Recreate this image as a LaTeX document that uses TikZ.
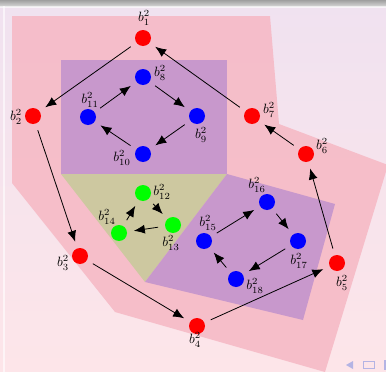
\documentclass[tikz,border=0pt]{standalone}
\usetikzlibrary{arrows.meta}
\definecolor{bgtop}{RGB}{240,226,240}
\definecolor{bgbot}{RGB}{253,229,233}
\definecolor{pinkhull}{RGB}{246,186,198}
\definecolor{purphull}{RGB}{200,152,204}
\definecolor{olivehull}{RGB}{205,200,160}
\definecolor{navcol}{RGB}{180,180,228}
\newcommand{\blab}[1]{\scalebox{1.35}{$b_{#1}^2$}}
\tikzset{
  vred/.style={circle,fill=red,minimum size=16pt,inner sep=0pt,outer sep=7pt},
  vblue/.style={circle,fill=blue,minimum size=16pt,inner sep=0pt,outer sep=7pt},
  vgreen/.style={circle,fill=green,minimum size=16pt,inner sep=0pt,outer sep=7pt},
  lbl/.style={inner sep=0pt},
  edge/.style={draw=black,line width=0.8pt,-{Latex[length=11pt,width=9pt]}},
}
\begin{document}
\begin{tikzpicture}[x=1pt,y=-1pt]
\useasboundingbox (0,0) rectangle (386,372);
% background
\shade[top color=bgtop,bottom color=bgbot] (0,0) rectangle (386,372);
\shade[top color=gray!75,bottom color=gray!35] (0,0) rectangle (386,6);
\fill[white,opacity=0.6] (0,6) rectangle (386,7.5);
\fill[white,opacity=0.6] (3,6) rectangle (5,372);
% hulls
\fill[pinkhull,opacity=0.9] (12,16) -- (270,16) -- (279,124) -- (388,165) -- (325,372) -- (115,312) -- (12,183) -- cycle;
\fill[purphull] (61,60) rectangle (227,174);
\fill[olivehull] (61,174) -- (227,174) -- (145,282) -- cycle;
\fill[purphull] (227,174) -- (335,204) -- (303,320) -- (145,282) -- cycle;
% navigation symbols
\fill[navcol] (346,365) -- (353,361) -- (353,369) -- cycle;
\draw[navcol,line width=1pt] (363,361.5) rectangle (374,368.5);
\fill[navcol] (384,360) rectangle (386,370);
% nodes
\node[vred] (b1) at (143,38) {};
\node[vred] (b2) at (33,116) {};
\node[vred] (b3) at (80,256) {};
\node[vred] (b4) at (197,326) {};
\node[vred] (b5) at (337,263) {};
\node[vred] (b6) at (306,154) {};
\node[vred] (b7) at (252,116) {};
\node[vblue] (b8) at (143,77) {};
\node[vblue] (b9) at (197,116) {};
\node[vblue] (b10) at (143,154) {};
\node[vblue] (b11) at (88,117) {};
\node[vgreen] (b12) at (143,193) {};
\node[vgreen] (b13) at (173,225) {};
\node[vgreen] (b14) at (119,233) {};
\node[vblue] (b15) at (204,241) {};
\node[vblue] (b16) at (267,202) {};
\node[vblue] (b17) at (298,241) {};
\node[vblue] (b18) at (236,279) {};
% labels
\node[lbl] (l1) at (144,18) {\blab{1}};
\node[lbl] (l2) at (16,117) {\blab{2}};
\node[lbl] (l3) at (63,263) {\blab{3}};
\node[lbl] (l4) at (195,340) {\blab{4}};
\node[lbl] (l5) at (342,283) {\blab{5}};
\node[lbl] (l6) at (322,146) {\blab{6}};
\node[lbl] (l7) at (269,110) {\blab{7}};
\node[lbl] (l8) at (160,73) {\blab{8}};
\node[lbl] (l9) at (201,135) {\blab{9}};
\node[lbl] (l10) at (122,158) {\blab{10}};
\node[lbl] (l11) at (90,100) {\blab{11}};
\node[lbl] (l12) at (162,192) {\blab{12}};
\node[lbl] (l13) at (171,243) {\blab{13}};
\node[lbl] (l14) at (107,217) {\blab{14}};
\node[lbl] (l15) at (208,223) {\blab{15}};
\node[lbl] (l16) at (257,185) {\blab{16}};
\node[lbl] (l17) at (299,261) {\blab{17}};
\node[lbl] (l18) at (255,286) {\blab{18}};
% edges
\draw[edge] (b1) -- (b2);
\draw[edge] (b2) -- (b3);
\draw[edge] (b3) -- (b4);
\draw[edge] (b4) -- (b5);
\draw[edge] (b5) -- (b6);
\draw[edge] (b6) -- (b7);
\draw[edge] (b7) -- (b1);
\draw[edge] (b11) -- (b8);
\draw[edge] (b8) -- (b9);
\draw[edge] (b9) -- (b10);
\draw[edge] (b10) -- (b11);
\draw[edge] (b14) -- (b12);
\draw[edge] (b12) -- (b13);
\draw[edge] (b13) -- (b14);
\draw[edge] (b15) -- (b16);
\draw[edge] (b16) -- (b17);
\draw[edge] (b17) -- (b18);
\draw[edge] (b18) -- (b15);
\end{tikzpicture}
\end{document}
